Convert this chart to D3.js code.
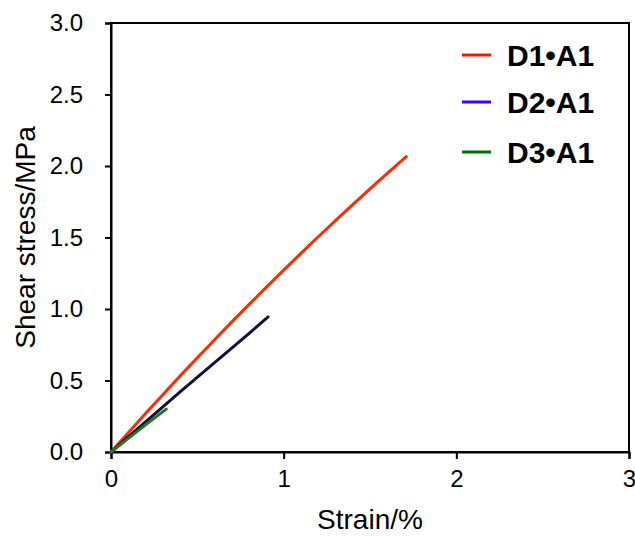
<!DOCTYPE html>
<html>
<head>
<meta charset="utf-8">
<script src="https://cdn.jsdelivr.net/npm/d3@7/dist/d3.min.js"></script>
<style>
  html, body { margin: 0; padding: 0; background: #fff; }
  svg { display: block; font-family: "Liberation Sans", Arial, sans-serif; }
</style>
</head>
<body>
<svg id="chart" width="635" height="536"></svg>
<script>
// Shear stress–strain curves (strain in %, stress in MPa)
const seriesNames = ["D1•A1", "D2•A1", "D3•A1"];
const lineColors = ["#ff2a00", "#10103c", "#1f7a1f"];
const legendColors = ["#ee1c00", "#3a00ff", "#007000"];

const d1Strain = [0, 0.1, 0.2, 0.3, 0.4, 0.5, 0.6, 0.7, 0.8, 0.9, 1.0, 1.1, 1.2, 1.3, 1.4, 1.5, 1.6, 1.71];
const d1Stress = [0, 0.135, 0.269, 0.401, 0.531, 0.659, 0.785, 0.910, 1.032, 1.153, 1.272, 1.389, 1.505, 1.618, 1.730, 1.840, 1.948, 2.065];

const d2Strain = [0, 0.2, 0.4, 0.6, 0.8, 0.91];
const d2Stress = [0, 0.21, 0.42, 0.625, 0.83, 0.945];

const d3Strain = [0, 0.1, 0.2, 0.32];
const d3Stress = [0, 0.095, 0.19, 0.30];

const xTicks = [0, 1, 2, 3];
const yTicks = [0, 0.5, 1.0, 1.5, 2.0, 2.5, 3.0];

const series = [
  { name: seriesNames[0], strain: d1Strain, stress: d1Stress },
  { name: seriesNames[1], strain: d2Strain, stress: d2Stress },
  { name: seriesNames[2], strain: d3Strain, stress: d3Stress }
];

const svg = d3.select("#chart");
const margin = { left: 111, right: 6, top: 23, bottom: 84 };
const W = 635, H = 536;

const x = d3.scaleLinear().domain([0, 3]).range([margin.left, W - margin.right]);
const y = d3.scaleLinear().domain([0, 3]).range([H - margin.bottom, margin.top]);

// frame
svg.append("rect")
  .attr("x", x(0)).attr("y", y(3))
  .attr("width", x(3) - x(0)).attr("height", y(0) - y(3))
  .attr("fill", "none").attr("stroke", "#000").attr("stroke-width", 2);

// axes
const xAxis = svg.append("g")
  .attr("transform", `translate(0,${y(0)})`)
  .call(d3.axisBottom(x).tickValues(xTicks).tickFormat(d3.format("d")).tickSize(7).tickPadding(11));
const yAxis = svg.append("g")
  .attr("transform", `translate(${x(0)},0)`)
  .call(d3.axisLeft(y).tickValues(yTicks).tickFormat(d3.format(".1f")).tickSize(6).tickPadding(22));

[xAxis, yAxis].forEach(g => {
  g.select(".domain").attr("stroke", "#000").attr("stroke-width", 2);
  g.selectAll(".tick line").attr("stroke", "#000").attr("stroke-width", 2);
  g.selectAll(".tick text").attr("fill", "#000").attr("font-size", 24)
    .attr("font-family", "'Liberation Sans', Arial, sans-serif");
});

// curves
const line = d3.line().x(d => x(d[0])).y(d => y(d[1])).curve(d3.curveMonotoneX);
series.forEach((s, i) => {
  const pts = s.strain.map((v, j) => [v, s.stress[j]]);
  svg.append("path")
    .datum(pts)
    .attr("d", line)
    .attr("fill", "none")
    .attr("stroke", lineColors[i])
    .attr("stroke-width", 3)
    .attr("stroke-linecap", "round");
});

// axis titles
svg.append("text")
  .attr("x", (x(0) + x(3)) / 2).attr("y", 529)
  .attr("text-anchor", "middle").attr("font-size", 28).attr("fill", "#000")
  .text("Strain/%");
svg.append("text")
  .attr("transform", `translate(35,${(y(0) + y(3)) / 2}) rotate(-90)`)
  .attr("text-anchor", "middle").attr("font-size", 28).attr("fill", "#000")
  .text("Shear stress/MPa");

// legend
const legendY = [55, 102, 152];
const legend = svg.append("g");
series.forEach((s, i) => {
  legend.append("line")
    .attr("x1", 462).attr("x2", 491)
    .attr("y1", legendY[i]).attr("y2", legendY[i])
    .attr("stroke", legendColors[i]).attr("stroke-width", 3);
  legend.append("text")
    .attr("x", 507).attr("y", legendY[i] + 11)
    .attr("font-size", 30).attr("font-weight", "bold").attr("fill", "#000")
    .text(s.name);
});
</script>
</body>
</html>
